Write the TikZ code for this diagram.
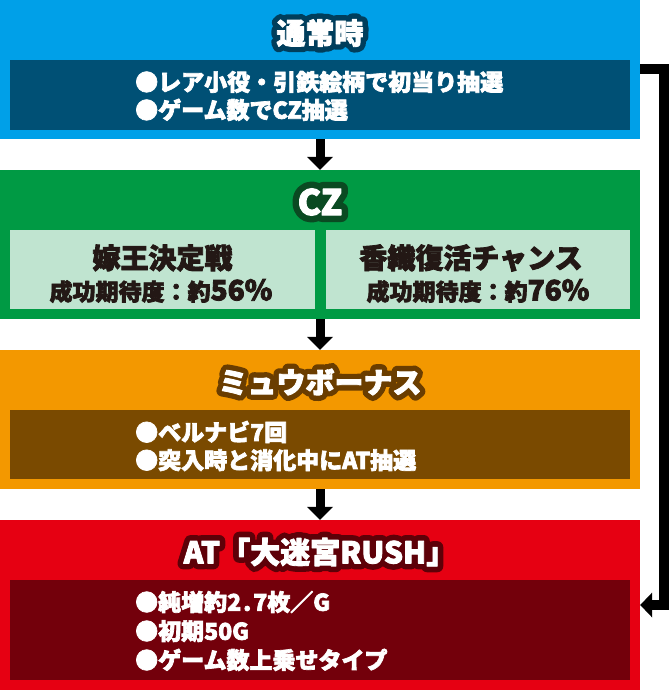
\documentclass[tikz,border=0pt]{standalone}
\usepackage{fontspec}
\setmainfont{Noto Sans CJK JP}
\newfontfamily\heavyfont{Noto Sans CJK JP}[BoldFeatures={FakeBold=3}]
\newfontfamily\rimfont{Noto Sans CJK JP}[BoldFeatures={FakeBold=40}]
\usetikzlibrary{arrows.meta}
\definecolor{cBlue}{HTML}{00A0E8}
\definecolor{cBlueIn}{HTML}{005075}
\definecolor{cBlueLn}{HTML}{003E5C}
\definecolor{cGreen}{HTML}{009A44}
\definecolor{cGreenIn}{HTML}{C0E4D0}
\definecolor{cGreenLn}{HTML}{0A4A22}
\definecolor{cOrange}{HTML}{F39800}
\definecolor{cOrangeIn}{HTML}{7A4A00}
\definecolor{cOrangeLn}{HTML}{6A3D00}
\definecolor{cRed}{HTML}{E60012}
\definecolor{cRedIn}{HTML}{73000B}
\definecolor{cRedLn}{HTML}{5E0008}
\definecolor{cInk}{HTML}{231815}
% outlined title: one emboldened dark copy (round joins) behind the white text
\newcommand{\outl}[2]{\pgfsetroundjoin\rlap{\rimfont\bfseries\textcolor{#1}{#2}}#2}
\tikzset{
  stage/.style={fill=#1, inner sep=0pt, minimum width=640pt},
  panel/.style={fill=#1, inner sep=0pt},
  ttl/.style={font=\heavyfont\fontsize{29}{34}\selectfont\bfseries, text=white, inner sep=0pt, line join=round},
  blt/.style={font=\heavyfont\fontsize{23}{28}\selectfont\bfseries, text=white, align=left, anchor=west, inner sep=0pt},
  czbig/.style={font=\heavyfont\fontsize{28}{32}\selectfont\bfseries, text=cInk, inner sep=0pt},
  czsmall/.style={font=\heavyfont\fontsize{23}{28}\selectfont\bfseries, text=cInk, inner sep=0pt},
  flow/.style={line width=9pt, -{Triangle[width=26pt,length=13pt,line width=0pt]}},
  loopback/.style={line width=10pt, line join=miter, -{Triangle[width=25pt,length=12pt,line width=0pt]}},
}
\begin{document}
\begin{tikzpicture}[x=1pt,y=-1pt]
\useasboundingbox (0,0) rectangle (670,690);
% stage 1
\node[stage=cBlue, minimum height=139pt] (blue) at (320,69.5) {};
\node[panel=cBlueIn, minimum width=620pt, minimum height=70pt] (blueIn) at (320,95) {};
\node[ttl] (t1) at (320,33) {\outl{cBlueLn}{通常時}};
\node[blt] (b1) at (135,96) {●レア小役・引鉄絵柄で初当り抽選\\●ゲーム数でCZ抽選};
% stage 2
\node[stage=cGreen, minimum height=149pt] (green) at (320,244.5) {};
\node[ttl, font=\heavyfont\fontsize{35}{38}\selectfont\bfseries] (t2) at (320,202) {\outl{cGreenLn}{CZ}};
\node[panel=cGreenIn, minimum width=305pt, minimum height=79pt] (gL) at (162.5,269.5) {};
\node[panel=cGreenIn, minimum width=304pt, minimum height=79pt] (gR) at (478,269.5) {};
\node[czbig] (gL1) at (162.5,258) {嫁王決定戦};
\node[czsmall] (gL2) at (161,291) {成功期待度：約{\fontsize{28}{30}\selectfont 56\%}};
\node[czbig] (gR1) at (471,258) {香織復活チャンス};
\node[czsmall] (gR2) at (478,291) {成功期待度：約{\fontsize{28}{30}\selectfont 76\%}};
% stage 3
\node[stage=cOrange, minimum height=139pt] (orange) at (320,419.5) {};
\node[panel=cOrangeIn, minimum width=620pt, minimum height=69pt] (orangeIn) at (320,444.5) {};
\node[ttl] (t3) at (320,382) {\outl{cOrangeLn}{ミュウボーナス}};
\node[blt] (b3) at (135,446) {●ベルナビ7回\\●突入時と消化中にAT抽選};
% stage 4
\node[stage=cRed, minimum height=170pt] (red) at (320,605) {};
\node[panel=cRedIn, minimum width=620pt, minimum height=100pt] (redIn) at (320,630) {};
\node[ttl, font=\heavyfont\fontsize{30}{34}\selectfont\bfseries] (t4) at (320,552) {\outl{cRedLn}{AT「大迷宮RUSH」}};
\node[blt, font=\heavyfont\fontsize{23}{29}\selectfont\bfseries] (b4) at (135,631) {●純増約2\kern2pt.\kern2pt7枚／G\\●初期50G\\●ゲーム数上乗せタイプ};
% connectors
\draw[flow] (blue.south) -- (green.north);
\draw[flow] (green.south) -- (orange.north);
\draw[flow] (orange.south) -- (red.north);
\draw[loopback] (blue.east) -- ++(24,0) |- (red.east);
\end{tikzpicture}
\end{document}
